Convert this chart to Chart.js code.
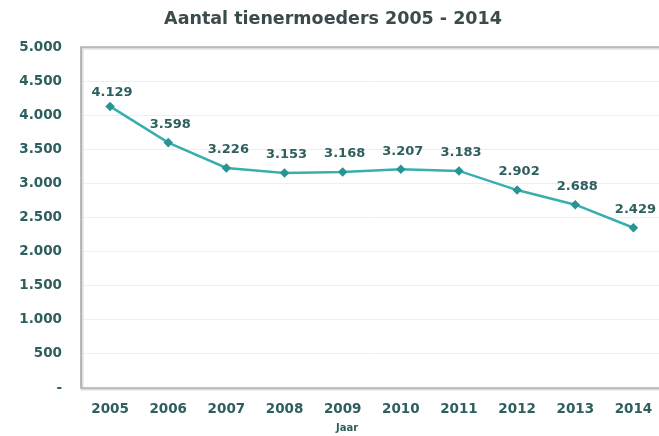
<!DOCTYPE html>
<html lang="nl">
<head>
  <meta charset="UTF-8">
  <title>Aantal tienermoeders 2005 - 2014</title>
  <script src="https://cdn.jsdelivr.net/npm/chart.js"></script>
  <style>
    body { margin: 0; padding: 0; background: #ffffff; overflow: hidden; }
    #wrap { width: 669px; height: 436px; }
  </style>
</head>
<body>
  <div id="wrap"><canvas id="chart"></canvas></div>
  <script>
    // data
    const years = ['2005', '2006', '2007', '2008', '2009', '2010', '2011', '2012', '2013', '2014'];
    const mothers = [4129, 3598, 3226, 3153, 3168, 3207, 3183, 2902, 2688, 2350];
    const pointLabels = ['4.129', '3.598', '3.226', '3.153', '3.168', '3.207', '3.183', '2.902', '2.688', '2.429'];
    const yTickLabels = ['-', '500', '1.000', '1.500', '2.000', '2.500', '3.000', '3.500', '4.000', '4.500', '5.000'];
    const xAxisTitle = 'Jaar';

    const textColor = '#2e5f5f';
    const font = '"DejaVu Sans", sans-serif';

    // frame round the plot area (right side runs off the picture)
    const plotBox = {
      id: 'plotBox',
      beforeDatasetsDraw(chart) {
        const a = chart.chartArea;
        const ctx = chart.ctx;
        const frame = (off) => {
          ctx.beginPath();
          ctx.moveTo(chart.width, a.top + off);
          ctx.lineTo(a.left + off, a.top + off);
          ctx.lineTo(a.left + off, a.bottom + off);
          ctx.lineTo(chart.width, a.bottom + off);
          ctx.stroke();
        };
        ctx.save();
        ctx.strokeStyle = '#dcdcdc';
        ctx.lineWidth = 3;
        frame(1);
        ctx.strokeStyle = '#9a9a9a';
        ctx.lineWidth = 1.2;
        frame(0);
        ctx.restore();
      }
    };

    // value labels above each point, plus the axis title
    const valueLabels = {
      id: 'valueLabels',
      afterDatasetsDraw(chart) {
        const ctx = chart.ctx;
        const meta = chart.getDatasetMeta(0);
        ctx.save();
        ctx.font = 'bold 13px ' + font;
        ctx.fillStyle = textColor;
        ctx.textAlign = 'center';
        ctx.textBaseline = 'middle';
        meta.data.forEach((pt, i) => {
          const dy = i === 0 ? 14 : 18;
          ctx.fillText(pointLabels[i], pt.x + 2, pt.y - dy);
        });
        ctx.font = 'bold 10px ' + font;
        ctx.fillText(xAxisTitle, 347, 428);
        ctx.restore();
      }
    };

    new Chart(document.getElementById('chart'), {
      type: 'line',
      data: {
        labels: years,
        datasets: [{
          data: mothers,
          borderColor: '#38aeae',
          borderWidth: 2.5,
          pointStyle: 'rectRot',
          pointRadius: 3,
          pointBackgroundColor: '#2a9494',
          pointBorderColor: '#2a9494',
          tension: 0
        }]
      },
      options: {
        responsive: true,
        maintainAspectRatio: false,
        animation: false,
        layout: { padding: { left: 0, right: 3, top: 0, bottom: 0 } },
        plugins: {
          legend: { display: false },
          tooltip: { enabled: false },
          title: {
            display: true,
            text: 'Aantal tienermoeders 2005 - 2014',
            color: '#3b4a4a',
            font: { family: font, size: 17.5, weight: 'bold' },
            padding: { top: 9, bottom: 17 }
          }
        },
        scales: {
          x: {
            offset: true,
            grid: { display: false, drawTicks: false },
            border: { display: false },
            ticks: {
              color: textColor,
              padding: 13,
              maxRotation: 0,
              font: { family: font, size: 13.5, weight: 'bold' }
            },
            afterFit(scale) { scale.height = 48; }
          },
          y: {
            min: 0,
            max: 5000,
            grid: { color: '#eeeeee', drawTicks: false },
            border: { display: false },
            ticks: {
              stepSize: 500,
              padding: 19,
              color: textColor,
              font: { family: font, size: 13.5, weight: 'bold' },
              callback: (v) => yTickLabels[Math.round(v / 500)]
            },
            afterFit(scale) { scale.width = 81; }
          }
        }
      },
      plugins: [plotBox, valueLabels]
    });
  </script>
</body>
</html>
